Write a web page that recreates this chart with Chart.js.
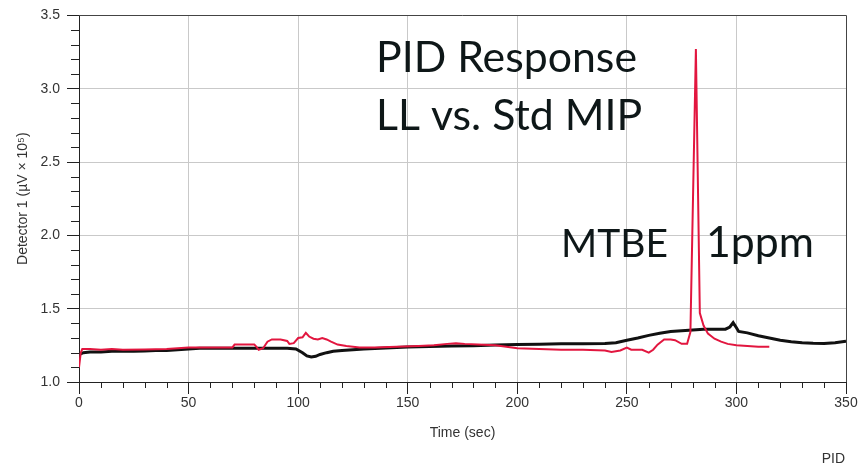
<!DOCTYPE html>
<html>
<head>
<meta charset="utf-8">
<script src="https://cdn.jsdelivr.net/npm/chart.js@4/dist/chart.umd.min.js"></script>
<style>
  html, body { margin: 0; padding: 0; background: #ffffff; }
  #wrap { width: 860px; height: 467px; position: relative; }
</style>
</head>
<body>
<div id="wrap"><canvas id="c" width="860" height="467"></canvas></div>
<script>
// ---- Data ----
const xTicksMajor = [0, 50, 100, 150, 200, 250, 300, 350];
const yTicksMajor = [1.0, 1.5, 2.0, 2.5, 3.0, 3.5];

const blackTime = [0.5, 2, 5, 10, 15, 20, 25, 30, 35, 40, 45, 50, 55, 60, 65, 70, 75, 80, 85, 90, 95, 99,
  102, 104, 106, 108, 110, 113, 116, 120, 125, 130, 140, 150, 160, 170, 180, 190, 200, 210, 220, 230, 240,
  245, 250, 255, 260, 265, 270, 275, 280, 285, 290, 295, 297, 298.5, 300, 301, 305, 310, 315, 320, 325, 330,
  335, 340, 345, 350];
const blackValue = [1.19, 1.20, 1.205, 1.205, 1.21, 1.21, 1.21, 1.212, 1.215, 1.215, 1.22, 1.225, 1.23, 1.23,
  1.23, 1.23, 1.23, 1.23, 1.23, 1.23, 1.23, 1.225,
  1.20, 1.178, 1.17, 1.175, 1.188, 1.20, 1.21, 1.215, 1.22, 1.225, 1.232, 1.238, 1.242, 1.245, 1.248, 1.252,
  1.255, 1.257, 1.26, 1.26, 1.262,
  1.268, 1.285, 1.30, 1.318, 1.333, 1.345, 1.35, 1.355, 1.36, 1.36, 1.36, 1.375, 1.405, 1.37, 1.345, 1.335,
  1.315, 1.30, 1.285, 1.275, 1.268, 1.264, 1.262, 1.268, 1.278];

const redTime = [0, 0.8, 1.5, 5, 10, 15, 20, 30, 40, 50, 60, 70, 71, 75, 80, 81, 82, 84, 86, 88, 92, 95, 96,
  98, 100, 102, 103.5, 105, 107, 109, 111, 113, 115, 118, 122, 128, 135, 145, 155, 162, 168, 172, 176, 182,
  190, 195, 200, 210, 220, 230, 240, 243, 247, 250, 252, 257, 260, 262, 264, 267, 270, 272, 275, 277.5,
  279, 281.5, 283.3, 285, 287, 290, 293, 296, 300, 305, 310, 315];
const redValue = [1.10, 1.20, 1.225, 1.225, 1.22, 1.225, 1.22, 1.222, 1.225, 1.235, 1.235, 1.236, 1.255,
  1.255, 1.255, 1.24, 1.22, 1.23, 1.275, 1.29, 1.29, 1.28, 1.26,
  1.265, 1.30, 1.305, 1.335, 1.31, 1.295, 1.29, 1.30, 1.29, 1.275, 1.255, 1.245, 1.235, 1.235, 1.24, 1.245,
  1.25, 1.26, 1.265, 1.26, 1.255,
  1.25, 1.24, 1.23, 1.225, 1.22, 1.22, 1.215, 1.205, 1.215, 1.235, 1.22, 1.22, 1.20, 1.22, 1.255, 1.29,
  1.29, 1.285, 1.26, 1.26,
  1.34, 3.27, 1.47, 1.385, 1.33, 1.295, 1.275, 1.26, 1.25, 1.245, 1.24, 1.24];

const titleX = 'Time (sec)';
const titleY = 'Detector 1 (µV × 10⁵)';
const annotations = ['PID Response', 'LL vs. Std MIP', 'MTBE', '1ppm'];
const footer = 'PID';

// ---- Build datasets ----
const blackPts = blackTime.map((t, i) => ({ x: t, y: blackValue[i] }));
const redPts = redTime.map((t, i) => ({ x: t, y: redValue[i] }));

const axisColor = '#222222';
const gridColor = '#c9c9c9';
const textColor = '#333333';

const minorTicks = {
  id: 'minorTicks',
  afterDraw(chart) {
    const ctx = chart.ctx;
    const xs = chart.scales.x, ys = chart.scales.y;
    const a = chart.chartArea;
    ctx.save();
    ctx.strokeStyle = axisColor;
    ctx.lineWidth = 1;
    ctx.beginPath();
    for (let v = xs.min; v <= xs.max + 1e-9; v += 10) {
      if (Math.abs(v % 50) < 1e-9) continue;
      const px = Math.round(xs.getPixelForValue(v)) + 0.5;
      ctx.moveTo(px, a.bottom);
      ctx.lineTo(px, a.bottom + 6);
    }
    for (let k = 0; k <= 25; k++) {
      const v = 1.0 + k * 0.1;
      if (k % 5 === 0) continue;
      const py = Math.round(ys.getPixelForValue(v)) + 0.5;
      ctx.moveTo(a.left, py);
      ctx.lineTo(a.left - 8, py);
    }
    ctx.stroke();
    // frame (top and right)
    ctx.strokeStyle = '#444444';
    ctx.beginPath();
    ctx.moveTo(a.left, Math.round(a.top) + 0.5);
    ctx.lineTo(Math.round(a.right) + 0.5, Math.round(a.top) + 0.5);
    ctx.lineTo(Math.round(a.right) + 0.5, a.bottom);
    ctx.stroke();
    ctx.restore();
  }
};

function fitFont(ctx, text, width, family) {
  ctx.font = '40px ' + family;
  const w = ctx.measureText(text).width;
  return 40 * width / w;
}

const textPlugin = {
  id: 'textPlugin',
  afterDraw(chart) {
    const ctx = chart.ctx;
    ctx.save();
    const fam = 'Lato, "Open Sans", sans-serif';
    ctx.fillStyle = '#0e1718';
    ctx.textBaseline = 'alphabetic';
    ctx.textAlign = 'left';
    const s1 = fitFont(ctx, annotations[0], 261, fam);
    ctx.font = s1.toFixed(1) + 'px ' + fam;
    ctx.fillText(annotations[0], 376, 72);
    ctx.fillText(annotations[1], 376, 130);
    const s2 = fitFont(ctx, annotations[2], 107, fam);
    ctx.font = s2.toFixed(1) + 'px ' + fam;
    ctx.fillText(annotations[2], 561, 257);
    const s3 = fitFont(ctx, annotations[3], 108, fam);
    ctx.font = s3.toFixed(1) + 'px ' + fam;
    ctx.fillText(annotations[3], 706, 257);
    ctx.font = '14px "Liberation Sans", Arial, sans-serif';
    ctx.fillStyle = textColor;
    ctx.textAlign = 'right';
    ctx.textBaseline = 'middle';
    ctx.fillText(footer, 845, 459);
    ctx.restore();
  }
};

new Chart(document.getElementById('c'), {
  type: 'line',
  data: {
    datasets: [
      { label: 'Std MIP', data: redPts, borderColor: '#e2163f', borderWidth: 2, pointRadius: 0, tension: 0, order: 0 },
      { label: 'LL MIP', data: blackPts, borderColor: '#111111', borderWidth: 3, pointRadius: 0, tension: 0, order: 1 }
    ]
  },
  options: {
    responsive: false,
    devicePixelRatio: 1,
    animation: false,
    layout: { padding: { top: 14, right: 14, left: 0, bottom: 0 } },
    plugins: { legend: { display: false }, tooltip: { enabled: false } },
    scales: {
      x: {
        type: 'linear', min: 0, max: 350,
        afterFit: (s) => { s.height = 85; },
        afterBuildTicks: (s) => { s.ticks = xTicksMajor.map(v => ({ value: v })); },
        ticks: { stepSize: 50, padding: 1, color: textColor, font: { family: '"Liberation Sans", Arial, sans-serif', size: 14 }, maxRotation: 0, autoSkip: false },
        grid: {
          color: (c) => (c.tick && (c.tick.value === 0 || c.tick.value === 350)) ? 'rgba(0,0,0,0)' : gridColor,
          lineWidth: 1, drawTicks: true, tickLength: 12, tickColor: axisColor, tickWidth: 1
        },
        border: { display: true, color: axisColor, width: 1 },
        title: { display: true, text: titleX, color: textColor, font: { family: '"Liberation Sans", Arial, sans-serif', size: 14 }, padding: { top: 0, bottom: 25 } }
      },
      y: {
        type: 'linear', min: 1.0, max: 3.5,
        afterFit: (s) => { s.width = 79; },
        afterBuildTicks: (s) => { s.ticks = yTicksMajor.map(v => ({ value: v })); },
        ticks: { stepSize: 0.5, padding: 7, color: textColor, font: { family: '"Liberation Sans", Arial, sans-serif', size: 14 }, callback: (v) => Number(v).toFixed(1) },
        grid: {
          color: (c) => (c.tick && (Math.abs(c.tick.value - 1.0) < 1e-9 || Math.abs(c.tick.value - 3.5) < 1e-9)) ? 'rgba(0,0,0,0)' : gridColor,
          lineWidth: 1, drawTicks: true, tickLength: 12, tickColor: axisColor, tickWidth: 1
        },
        border: { display: true, color: axisColor, width: 1 },
        title: { display: true, text: titleY, color: textColor, font: { family: '"Liberation Sans", Arial, sans-serif', size: 14 }, padding: { top: 15, bottom: 0 } }
      }
    }
  },
  plugins: [minorTicks, textPlugin]
});
</script>
</body>
</html>
